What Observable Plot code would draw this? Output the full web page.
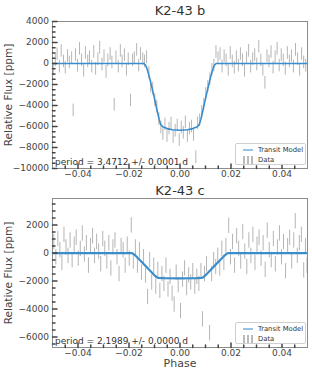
<!DOCTYPE html>
<html>
<head>
<meta charset="utf-8">
<script src="https://cdn.jsdelivr.net/npm/d3@7"></script>
<script src="https://cdn.jsdelivr.net/npm/@observablehq/plot@0.6"></script>
<style>
  body { margin: 0; background: #fff; }
  #wrap { position: relative; width: 312px; height: 374px; font-family: "DejaVu Sans", sans-serif; }
  #wrap svg { display: block; }
  .legend { position: absolute; border: 1px solid #cfcfcf; border-radius: 2px; background: rgba(255,255,255,0.85);
            font-size: 6.8px; color: #333; line-height: 10px; box-sizing: border-box; padding: 1px 0 0 6px; white-space: nowrap; }
  .legend .row { display: flex; align-items: center; height: 10px; }
  .legend .sym { width: 11px; margin-right: 5px; display: flex; align-items: center; justify-content: center; }
</style>
</head>
<body>
<div id="wrap"></div>
<script>
// ---------- data ----------
const titleB = "K2-43 b";
const titleC = "K2-43 c";
const periodB = "period = 3.4712 +/- 0.0001 d";
const periodC = "period = 2.1989 +/- 0.0000 d";
const yLabel = "Relative Flux [ppm]";
const xLabel = "Phase";
const legendLabels = ["Transit Model", "Data"];

const phaseB = [
-0.0497,-0.0489,-0.0482,-0.0473,-0.0466,-0.0457,-0.0450,-0.0441,-0.0434,-0.0425,
-0.0419,-0.0410,-0.0402,-0.0394,-0.0386,-0.0378,-0.0371,-0.0362,-0.0355,-0.0346,
-0.0338,-0.0331,-0.0322,-0.0315,-0.0306,-0.0298,-0.0290,-0.0283,-0.0274,-0.0267,
-0.0258,-0.0251,-0.0242,-0.0234,-0.0227,-0.0218,-0.0210,-0.0203,-0.0194,-0.0186,
-0.0179,-0.0170,-0.0162,-0.0155,-0.0146,-0.0139,-0.0131,-0.0122,-0.0115,-0.0107,
-0.0099,-0.0091,-0.0083,-0.0075,-0.0067,-0.0059,-0.0051,-0.0043,-0.0035,-0.0027,
-0.0019,-0.0011,-0.0003,0.0005,0.0013,0.0021,0.0029,0.0037,0.0045,0.0053,
0.0062,0.0069,0.0077,0.0085,0.0093,0.0101,0.0109,0.0117,0.0125,0.0133,
0.0141,0.0149,0.0157,0.0165,0.0173,0.0181,0.0189,0.0197,0.0205,0.0213,
0.0221,0.0229,0.0237,0.0245,0.0253,0.0261,0.0269,0.0277,0.0285,0.0293,
0.0301,0.0309,0.0317,0.0325,0.0333,0.0341,0.0349,0.0357,0.0365,0.0373,
0.0381,0.0389,0.0397,0.0405,0.0413,0.0421,0.0429,0.0437,0.0445,0.0453,
0.0461,0.0469,0.0477,0.0485,0.0493];
const fluxB = [
-600,300,900,-300,1200,200,-400,700,100,500,
-4470,800,-200,1400,300,-700,1000,200,600,-300,
1100,-500,400,1500,-100,700,-800,300,900,100,
-3930,600,-300,1200,200,800,-600,400,-3520,300,
500,1300,-200,900,400,200,600,-900,-2200,-2400,
-3500,-4100,-5300,-6100,-6700,-5800,-6900,-6200,-5700,-7000,
-6400,-5900,-7300,-6100,-6600,-5600,-6900,-6200,-6000,-6800,
-8930,-5700,-5400,-4600,-3900,-2900,-2200,-1500,-600,-200,
1100,500,900,-300,700,300,-600,1000,200,-400,
600,-200,900,300,-700,500,1200,-300,400,800,
-100,1600,300,-600,-1840,700,200,1100,-400,600,
1400,-200,800,300,-500,1000,200,700,-300,1300,
400,-600,900,100,-200];
const errB = 600;

const modelPhaseB = [-0.05,-0.0142,-0.0135,-0.0128,-0.0120,-0.0110,-0.0100,-0.0090,-0.0082,-0.0076,-0.0068,-0.0050,-0.0030,0,0.0030,0.0050,0.0068,0.0076,0.0082,0.0090,0.0100,0.0110,0.0120,0.0128,0.0135,0.0142,0.05];
const modelFluxB = [0,0,-150,-600,-1300,-2300,-3350,-4450,-5300,-5800,-6020,-6200,-6310,-6350,-6310,-6200,-6020,-5800,-5300,-4450,-3350,-2300,-1300,-600,-150,0,0];

const phaseC = [
-0.0495,-0.0487,-0.0479,-0.0471,-0.0463,-0.0455,-0.0447,-0.0439,-0.0431,-0.0423,
-0.0415,-0.0407,-0.0399,-0.0391,-0.0383,-0.0375,-0.0367,-0.0359,-0.0351,-0.0343,
-0.0335,-0.0327,-0.0319,-0.0311,-0.0303,-0.0295,-0.0287,-0.0279,-0.0271,-0.0263,
-0.0255,-0.0247,-0.0239,-0.0231,-0.0223,-0.0215,-0.0207,-0.0199,-0.0191,-0.0183,
-0.0175,-0.0167,-0.0159,-0.0151,-0.0143,-0.0135,-0.0127,-0.0119,-0.0111,-0.0103,
-0.0095,-0.0087,-0.0079,-0.0071,-0.0063,-0.0055,-0.0047,-0.0039,-0.0031,-0.0023,
-0.0015,-0.0007,0.0002,0.0010,0.0018,0.0026,0.0034,0.0042,0.0050,0.0058,
0.0066,0.0074,0.0082,0.0088,0.0096,0.0104,0.0116,0.0124,0.0132,0.0140,
0.0148,0.0156,0.0164,0.0172,0.0180,0.0191,0.0198,0.0206,0.0214,0.0222,
0.0230,0.0238,0.0246,0.0254,0.0262,0.0270,0.0278,0.0286,0.0294,0.0302,
0.0310,0.0318,0.0326,0.0334,0.0342,0.0350,0.0358,0.0366,0.0374,0.0382,
0.0390,0.0398,0.0406,0.0414,0.0422,0.0430,0.0438,0.0446,0.0452,0.0460,
0.0468,0.0476,0.0485,0.0492,0.0498];
const fluxC = [
800,-300,1000,200,-700,1300,400,-200,900,-500,
600,1100,-400,300,1400,-100,700,-900,500,1200,
-200,800,100,-800,1000,300,-600,700,-1100,400,
900,-300,-1500,500,200,-900,600,-400,1980,-600,
400,-900,200,-1400,-300,-1600,-3140,-500,-2100,-900,
-2400,-1200,-2700,-1500,-2200,-900,-2600,-1700,-2900,-3680,
-1400,-2300,-4150,-1900,-1100,-2500,-1600,-2100,-1300,-2400,
-1700,-2200,-1300,-4740,-1500,-800,-5720,-1500,-500,-1000,
-200,-1100,300,-700,500,1950,-300,800,-900,1200,
300,-600,1500,100,-1000,900,-200,1300,-700,600,
1100,-400,700,-1200,1600,200,-500,1000,-800,400,
1400,-300,800,-1300,500,1100,-600,900,2280,-200,
700,1300,-1240,500,-900];
const errC = 550;

const modelPhaseC = [-0.05,-0.0188,-0.0180,-0.0170,-0.0100,-0.0092,-0.0086,-0.0060,0,0.0060,0.0086,0.0092,0.0100,0.0170,0.0180,0.0188,0.05];
const modelFluxC = [0,0,-90,-260,-1580,-1720,-1770,-1800,-1810,-1800,-1770,-1720,-1580,-260,-90,0,0];

const xMajor = [-0.04,-0.02,0.00,0.02,0.04];
const xMinor = [-0.045,-0.035,-0.03,-0.025,-0.015,-0.01,-0.005,0.005,0.01,0.015,0.025,0.03,0.035,0.045];
const yMajorB = [-10000,-8000,-6000,-4000,-2000,0,2000,4000];
const yMinorB = [-9500,-9000,-8500,-7500,-7000,-6500,-5500,-5000,-4500,-3500,-3000,-2500,-1500,-1000,-500,500,1000,1500,2500,3000,3500];
const yMajorC = [-6000,-4000,-2000,0,2000];
const yMinorC = [-6500,-5500,-5000,-4500,-3500,-3000,-2500,-1500,-1000,-500,500,1000,1500,2500,3000,3500];

// ---------- drawing ----------
const tickShape = { draw(context, l) { context.moveTo(0, 0); context.lineTo(0, -l); } };
const blue = "#3a8dcc";
const fmtX = d3.format(".2f");

function panel({title, period, phase, flux, err, mPhase, mFlux, yDomain, yMajor, yMinor, height, marginTop, marginBottom, lineWidth, showX}) {
  const data = phase.map((p, i) => ({phase: p, flux: flux[i]}));
  const model = mPhase.map((p, i) => ({phase: p, flux: mFlux[i]}));
  const marks = [
    Plot.ruleX(data, {x: "phase", y1: d => d.flux - err, y2: d => d.flux + err, stroke: "#5a5a5a", strokeOpacity: 0.45, strokeWidth: 1, clip: true}),
    Plot.line(model, {x: "phase", y: "flux", stroke: blue, strokeWidth: lineWidth, clip: true}),
    Plot.frame({stroke: "#8c8c8c"}),
    Plot.axisX({ticks: xMajor, tickSize: 0, tickPadding: 2, tickFormat: fmtX, label: null, fontSize: 9, fill: "#444"}),
    Plot.axisY({ticks: yMajor, tickSize: 0, tickPadding: 3.5, label: null, fontSize: 9, fill: "#444", tickFormat: d3.format("d")}),
    Plot.vector(xMajor, {x: d => d, frameAnchor: "bottom", length: 4.5, rotate: 0, anchor: "start", shape: tickShape, stroke: "#444"}),
    Plot.vector(xMinor, {x: d => d, frameAnchor: "bottom", length: 2.5, rotate: 0, anchor: "start", shape: tickShape, stroke: "#444"}),
    Plot.vector(yMajor, {y: d => d, frameAnchor: "left", length: 4.5, rotate: 90, anchor: "start", shape: tickShape, stroke: "#444"}),
    Plot.vector(yMinor, {y: d => d, frameAnchor: "left", length: 2.5, rotate: 90, anchor: "start", shape: tickShape, stroke: "#444"}),
    Plot.text([title], {text: d => d, frameAnchor: "top", textAnchor: "middle", lineAnchor: "middle", dy: -marginTop + 10, fontSize: 13, fill: "#333"}),
    Plot.text([yLabel], {text: d => d, frameAnchor: "left", rotate: -90, dx: -44, textAnchor: "middle", lineAnchor: "middle", fontSize: 10.5, fill: "#444"}),
    Plot.text([period], {text: d => d, frameAnchor: "bottom-left", textAnchor: "start", lineAnchor: "middle", dx: 2.5, dy: -6.5, fontSize: 9, fill: "#333"})
  ];
  if (showX) marks.push(Plot.text([xLabel], {text: d => d, frameAnchor: "bottom", textAnchor: "middle", lineAnchor: "middle", dy: 16, fontSize: 11, fill: "#444"}));
  return Plot.plot({
    width: 312, height, marginTop, marginBottom, marginLeft: 52, marginRight: 5,
    x: {domain: [-0.05, 0.05]},
    y: {domain: yDomain},
    style: {fontFamily: "DejaVu Sans, sans-serif", fontSize: "9px", color: "#444", background: "transparent"},
    marks
  });
}

const wrap = document.getElementById("wrap");
wrap.appendChild(panel({title: titleB, period: periodB, phase: phaseB, flux: fluxB, err: errB, mPhase: modelPhaseB, mFlux: modelFluxB,
  yDomain: [-10000, 4000], yMajor: yMajorB, yMinor: yMinorB, height: 180, marginTop: 21, marginBottom: 12, lineWidth: 1.6, showX: false}));
wrap.appendChild(panel({title: titleC, period: periodC, phase: phaseC, flux: fluxC, err: errC, mPhase: modelPhaseC, mFlux: modelFluxC,
  yDomain: [-6750, 3900], yMajor: yMajorC, yMinor: yMinorC, height: 194, marginTop: 18, marginBottom: 27, lineWidth: 2.2, showX: true}));

function legend(top) {
  const div = document.createElement("div");
  div.className = "legend";
  Object.assign(div.style, {left: "235px", top: top + "px", width: "71px", height: "22px"});
  const r1 = document.createElement("div"); r1.className = "row";
  r1.innerHTML = `<span class="sym"><svg width="10" height="4"><line x1="0" y1="2" x2="10" y2="2" stroke="${blue}" stroke-width="1.5" stroke-opacity="0.7"/></svg></span>`;
  r1.appendChild(document.createTextNode(legendLabels[0]));
  const r2 = document.createElement("div"); r2.className = "row";
  r2.innerHTML = `<span class="sym"><svg width="10" height="8"><g stroke="#777" stroke-width="1"><line x1="1" y1="0" x2="1" y2="8"/><line x1="5" y1="0" x2="5" y2="8"/><line x1="9" y1="0" x2="9" y2="8"/></g></svg></span>`;
  r2.appendChild(document.createTextNode(legendLabels[1]));
  div.appendChild(r1); div.appendChild(r2);
  wrap.appendChild(div);
}
legend(143);
legend(322);
</script>
</body>
</html>
